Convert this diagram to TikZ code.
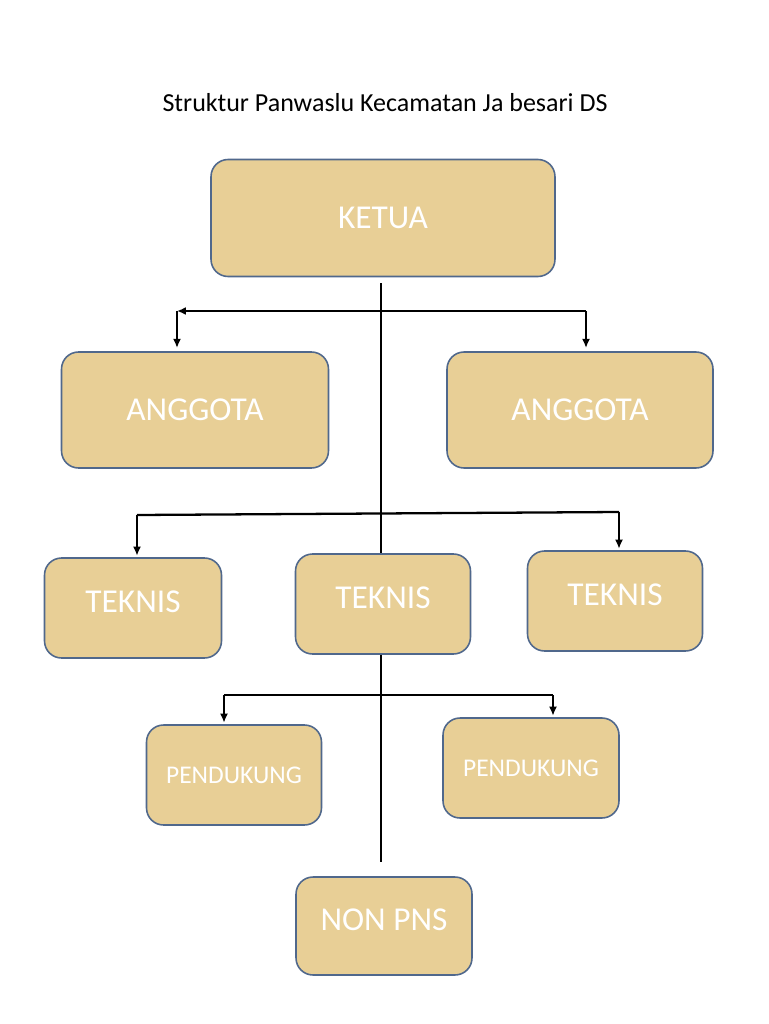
\documentclass[tikz,border=0pt]{standalone}
\usepackage{fontspec}
\setmainfont{Carlito}
\usetikzlibrary{arrows.meta}
\definecolor{papyrus}{RGB}{232,207,150}
\definecolor{boxedge}{RGB}{80,104,140}
\tikzset{
    jabatan/.style={draw=boxedge, line width=0.9pt, fill=papyrus, rounded corners=0.34cm,
        text=white, font=\fontsize{19pt}{21pt}\selectfont, inner sep=0pt},
    naik/.style={text depth=6.8pt},
    garis/.style={black, line width=1.3pt},
    panah/.style={black, line width=0.7pt, -{Latex[length=5pt,width=4.5pt]}}
}
\begin{document}
\begin{tikzpicture}[x=0.02cm, y=-0.02cm]
    \useasboundingbox[fill=white] (0,0) rectangle (768,1024);
    % judul
    \node[font=\fontsize{14.8pt}{17pt}\selectfont] (judul) at (385, 103) {Struktur Panwaslu Kecamatan Ja besari DS};

    % kotak jabatan
    \node[jabatan, minimum width=6.88cm, minimum height=2.34cm] (ketua) at (383, 218) {KETUA};
    \node[jabatan, minimum width=5.34cm, minimum height=2.32cm] (anggotaL) at (195, 410) {ANGGOTA};
    \node[jabatan, minimum width=5.32cm, minimum height=2.32cm] (anggotaR) at (580, 410) {ANGGOTA};
    \node[jabatan, naik, minimum width=3.54cm, minimum height=2.0cm] (teknisL) at (133, 608) {TEKNIS};
    \node[jabatan, naik, minimum width=3.5cm, minimum height=2.0cm] (teknisM) at (383, 604) {TEKNIS};
    \node[jabatan, naik, minimum width=3.5cm, minimum height=2.0cm] (teknisR) at (615, 601) {TEKNIS};
    \node[jabatan, minimum width=3.5cm, minimum height=2.0cm, font=\fontsize{14.5pt}{16pt}\selectfont] (pendukungL) at (234, 775) {PENDUKUNG};
    \node[jabatan, minimum width=3.52cm, minimum height=2.0cm, font=\fontsize{14.5pt}{16pt}\selectfont] (pendukungR) at (531, 768) {PENDUKUNG};
    \node[jabatan, naik, minimum width=3.52cm, minimum height=1.96cm] (nonpns) at (384, 926) {NON PNS};

    % titik cabang
    \coordinate (atas) at (381, 283);
    \coordinate (bawah) at (381, 862);
    \coordinate (c1L) at (177, 311);
    \coordinate (c1R) at (586, 311);
    \coordinate (c2L) at (137, 515);
    \coordinate (c2R) at (619, 512);
    \coordinate (c3L) at (224, 695);
    \coordinate (c3R) at (553, 695);

    % batang utama
    \draw[garis] (atas) -- (atas |- teknisM.north);
    \draw[garis] (teknisM.south -| bawah) -- (bawah);

    % cabang anggota
    \draw[garis, -{Latex[length=5pt,width=4.5pt]}] (c1R) -- (c1L);
    \draw[panah] (c1L) -- ([yshift=2pt]anggotaL.north -| c1L);
    \draw[panah] (c1R) -- ([yshift=2pt]anggotaR.north -| c1R);

    % cabang teknis
    \draw[garis] (c2L) -- (c2R);
    \draw[panah] (c2L) -- ([yshift=1pt]teknisL.north -| c2L);
    \draw[panah] (c2R) -- ([yshift=1pt]teknisR.north -| c2R);

    % cabang pendukung
    \draw[garis] (c3L) -- (c3R);
    \draw[panah] (c3L) -- ([yshift=1pt]pendukungL.north -| c3L);
    \draw[panah] (c3R) -- ([yshift=1pt]pendukungR.north -| c3R);
\end{tikzpicture}
\end{document}
